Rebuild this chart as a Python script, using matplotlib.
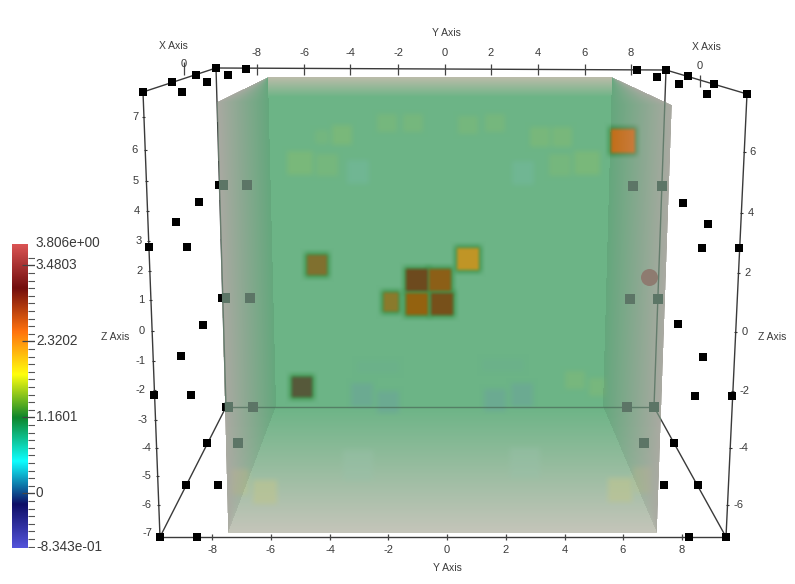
import numpy as np
import matplotlib
matplotlib.use("Agg")
import matplotlib.pyplot as plt
from matplotlib.colors import LinearSegmentedColormap
from matplotlib.patches import Polygon

W, H = 795, 584
FONT = "Liberation Sans"
TEXT = "#3a3a3a"

# --- colour legend
CB_MIN, CB_MAX = -0.8343, 3.806
CB_MAJOR = [0.0, 1.1601, 2.3202, 3.4803]
CB_LABELS = ["0", "1.1601", "2.3202", "3.4803"]
CB_STOPS = [0.0, 0.143, 0.285, 0.429, 0.571, 0.714, 0.857, 1.0]
CB_COLORS = ["#4a4ad8", "#00005e", "#00ffff", "#00801f", "#ffff00", "#ff6a00", "#6b0000", "#d84a4a"]

# --- box corners
OUTER = [(217, 102), (268, 77), (612, 77), (672, 105), (657, 533), (228, 533)]

# --- axis ticks
TOP_VALUES = [-8, -6, -4, -2, 0, 2, 4, 6, 8]
TOP_X = [257, 304, 350, 398, 445, 491, 538, 585, 631]
BOTTOM_X = [212, 271, 330, 388, 447, 506, 565, 623, 682]
LEFT_VALUES = [7, 6, 5, 4, 3, 2, 1, 0, -1, -2, -3, -4, -5, -6, -7]
LEFT_X = [135, 135, 136, 137, 139, 140, 141, 142, 140, 141, 143, 146, 146, 147, 147]
LEFT_Y = [117, 150, 181, 211, 241, 271, 300, 331, 361, 390, 420, 448, 476, 505, 533]
RIGHT_VALUES = [6, 4, 2, 0, -2, -4, -6]
RIGHT_X = [753, 751, 748, 745, 744, 743, 739]
RIGHT_Y = [152, 213, 273, 332, 391, 448, 505]

# --- black point markers
PTS_X = [143, 172, 196, 216, 246, 228, 207, 182, 219, 199, 637, 666, 657, 688, 679, 714, 707, 747, 683,
         176, 187, 149, 222, 203, 181, 191, 154, 708, 702, 739, 678, 703, 695, 732,
         226, 207, 186, 218, 160, 197, 674, 698, 664, 689, 726]
PTS_Y = [92, 82, 75, 68, 69, 75, 82, 92, 185, 202, 70, 70, 77, 76, 84, 84, 94, 94, 203,
         222, 247, 247, 298, 325, 356, 395, 395, 224, 248, 248, 324, 357, 396, 396,
         407, 443, 485, 485, 537, 537, 443, 485, 485, 537, 537]
# --- markers seen through the volume
GHOST_X = [223, 247, 633, 662, 225, 250, 630, 658, 228, 253, 238, 627, 654, 644]
GHOST_Y = [185, 185, 186, 186, 298, 298, 299, 299, 407, 407, 443, 407, 407, 443]

# --- box edges
EDGE_X0 = [143, 143, 216, 666, 747, 160, 160, 726, 216, 666, 226]
EDGE_Y0 = [92, 92, 68, 70, 94, 537, 537, 537, 68, 70, 407]
EDGE_X1 = [216, 160, 666, 747, 726, 726, 226, 654, 226, 654, 654]
EDGE_Y1 = [68, 537, 70, 94, 537, 537, 407, 407, 407, 407, 407]

# --- hot cells in the volume
HOT_X = [317, 417, 440, 417, 442, 468, 391, 302, 623]
HOT_Y = [265, 280, 280, 304, 304, 259, 302, 387, 141]
HOT_W = [22, 24, 24, 24, 24, 24, 17, 22, 26]
HOT_H = [22, 24, 24, 24, 24, 24, 21, 22, 26]
HOT_C = ["#80702f", "#6d4a1e", "#8c5f17", "#94620f", "#77501a", "#c09526", "#8a7a2c", "#56593a", "#c97a20"]

# --- faint cells
FAINT_X = [300, 327, 322, 342, 387, 413, 468, 495, 540, 562, 560, 587, 358, 523, 362, 388, 378, 495, 522, 503,
           358, 525, 240, 265, 620, 642, 575, 597]
FAINT_Y = [163, 165, 137, 135, 123, 123, 125, 123, 137, 137, 165, 163, 172, 173, 395, 402, 367, 400, 395, 365,
           465, 463, 482, 492, 490, 480, 380, 387]
FAINT_W = [28, 24, 16, 22, 22, 22, 22, 22, 22, 22, 24, 28, 24, 24, 24, 24, 44, 24, 24, 44, 32, 32, 20, 26, 26, 20, 22, 18]
FAINT_H = [26, 24, 16, 22, 20, 20, 20, 20, 22, 22, 24, 26, 26, 26, 26, 24, 14, 24, 26, 14, 32, 32, 28, 26, 26, 28, 20, 20]
FAINT_C = ["#82bb72"] * 12 + ["#74b9a0"] * 2 + ["#6a9fa0"] * 2 + ["#68a898"] + ["#6a9fa0"] * 2 + ["#68a898"] \
    + ["#98c0a8"] * 2 + ["#bcc490"] * 4 + ["#86bb72"] * 2
FAINT_A = [0.6, 0.45, 0.35, 0.6, 0.45, 0.45, 0.45, 0.45, 0.55, 0.55, 0.45, 0.6, 0.5, 0.5, 0.45, 0.45, 0.22, 0.45, 0.45, 0.22,
           0.45, 0.45, 0.5, 0.65, 0.65, 0.4, 0.45, 0.45]

GREEN = np.array([108, 180, 134], float)
SIDE_OUT = np.array([170, 170, 162], float)
FLOOR_OUT = np.array([197, 197, 186], float)
CEIL_OUT = np.array([188, 188, 170], float)
INNER_SHADE = 0.93


def hexrgb(c):
    return np.array([int(c[i:i + 2], 16) for i in (1, 3, 5)], float)


def edge(y, y0, x0, y1, x1):
    return x0 + (y - y0) * (x1 - x0) / (y1 - y0)


def soft_rect(X, Y, cx, cy, w, h, soft):
    a = np.clip((w / 2 + soft - np.abs(X - cx)) / (2 * soft), 0, 1)
    b = np.clip((h / 2 + soft - np.abs(Y - cy)) / (2 * soft), 0, 1)
    a = a * a * (3 - 2 * a)
    b = b * b * (3 - 2 * b)
    return a * b


def volume_image():
    Y, X = np.mgrid[0:H, 0:W] + 0.5
    bg = np.tile(GREEN, (H, W, 1))

    # vertical shading of the back and floor
    t = np.clip((Y - 406) / (533 - 406), 0, 1)[..., None]
    bg = bg * (1 - t) + FLOOR_OUT * t
    t = np.clip((97 - Y) / 20, 0, 1)[..., None]
    bg = bg * (1 - t) + CEIL_OUT * t

    rgb = bg.copy()
    # faint cells
    for x, y, w, h, c, a in zip(FAINT_X, FAINT_Y, FAINT_W, FAINT_H, FAINT_C, FAINT_A):
        m = (soft_rect(X, Y, x, y, w - 2, h - 2, 5) * a)[..., None]
        rgb = rgb * (1 - m) + hexrgb(c) * m
    # hot cells: dark green halo, then the core
    for x, y, w, h in zip(HOT_X, HOT_Y, HOT_W, HOT_H):
        m = (soft_rect(X, Y, x, y, w + 3, h + 3, 5) * 0.9)[..., None]
        rgb = rgb * (1 - m) + np.array([58, 145, 72.]) * m
    for x, y, w, h, c in zip(HOT_X, HOT_Y, HOT_W, HOT_H, HOT_C):
        m = soft_rect(X, Y, x, y, w - 2, h - 2, 3)[..., None]
        rgb = rgb * (1 - m) + hexrgb(c) * m

    # left and right faces
    yc = np.clip(Y, 77, 533)
    outer_l = np.where(yc < 102, edge(yc, 77, 268, 102, 217), edge(yc, 102, 217, 533, 228))
    outer_r = np.where(yc < 105, edge(yc, 77, 612, 105, 672), edge(yc, 105, 672, 533, 657))
    back_l = np.where(yc < 406, edge(yc, 77, 268, 406, 276), edge(yc, 406, 276, 533, 228))
    back_r = np.where(yc < 406, edge(yc, 77, 612, 406, 603), edge(yc, 406, 603, 533, 657))

    tl = np.clip((back_l - X) / np.maximum(back_l - outer_l, 1), 0, 1)
    tr = np.clip((X - back_r) / np.maximum(outer_r - back_r, 1), 0, 1)
    in_l = X < back_l
    in_r = X > back_r
    s = np.zeros((H, W))
    s[in_l] = tl[in_l]
    s[in_r] = tr[in_r]
    is_side = (in_l | in_r)[..., None]
    s = s[..., None]
    # side face: no ceiling/floor rows on it except the floor's greying
    row = np.clip((Y - 406) / 127, 0, 1)[..., None]
    inner = (GREEN * (1 - row) + FLOOR_OUT * row) * INNER_SHADE
    side_rgb = inner * (1 - s) + SIDE_OUT * s
    delta = rgb - bg
    rgb = np.where(is_side, side_rgb + delta * (1 - 0.55 * s), rgb)

    alpha = ((X >= outer_l) & (X <= outer_r) & (Y >= 77) & (Y <= 533)).astype(float)
    return np.dstack([np.clip(rgb, 0, 255) / 255, alpha])


fig = plt.figure(figsize=(W / 100, H / 100), dpi=100, facecolor="white")
ax = fig.add_axes([0, 0, 1, 1])
ax.set_xlim(0, W)
ax.set_ylim(H, 0)
ax.axis("off")

# box edges and black markers sit behind the volume
for x0, y0, x1, y1 in zip(EDGE_X0, EDGE_Y0, EDGE_X1, EDGE_Y1):
    ax.plot([x0, x1], [y0, y1], color="#3a3a3a", lw=1.0, zorder=1, solid_capstyle="butt")
ax.scatter(PTS_X, PTS_Y, marker="s", s=36, color="black", linewidths=0, zorder=2)

# axis ticks
ax.vlines(TOP_X, 64, 75, color="#444444", lw=0.9, zorder=1)
ax.vlines(BOTTOM_X, 534, 540, color="#444444", lw=0.9, zorder=1)
ax.vlines([184, 700], [62, 75], [75, 87], color="#444444", lw=0.9, zorder=1)
left_line = np.interp(LEFT_Y, [92, 537], [143, 160])
ax.hlines(LEFT_Y, left_line - 1.5, left_line + 1.5, color="#333333", lw=0.8, zorder=1)
right_line = np.interp(RIGHT_Y, [94, 537], [747, 726])
ax.hlines(RIGHT_Y, right_line - 1.5, right_line + 1.5, color="#333333", lw=0.8, zorder=1)

# volume
clip = Polygon(OUTER, closed=True, transform=ax.transData, fc="none", ec="none")
ax.add_patch(clip)
im = ax.imshow(volume_image(), extent=(0, W, H, 0), interpolation="bilinear", zorder=3, aspect="auto")
im.set_clip_path(clip)
ax.set_xlim(0, W)
ax.set_ylim(H, 0)

# what shows through the volume
for x0, y0, x1, y1 in zip(EDGE_X0, EDGE_Y0, EDGE_X1, EDGE_Y1):
    ln, = ax.plot([x0, x1], [y0, y1], color="#4a6a58", lw=1.0, alpha=0.7, zorder=4)
    ln.set_clip_path(clip)
gh = ax.scatter(GHOST_X, GHOST_Y, marker="s", s=50, color="#5c7566", linewidths=0, zorder=5)
gh.set_clip_path(clip)
ax.scatter([649], [277], s=150, color="#8e7b70", linewidths=0, zorder=6)

# text
tk = dict(family=FONT, color=TEXT, fontsize=8, ha="center", va="center", zorder=7)
lb = dict(family=FONT, color=TEXT, fontsize=7.5, ha="center", va="center", zorder=7)
for x, v in zip(TOP_X, TOP_VALUES):
    ax.text(x, 53, str(v), **tk)
for x, v in zip(BOTTOM_X, TOP_VALUES):
    ax.text(x, 550, str(v), **tk)
for x, y, v in zip(LEFT_X, LEFT_Y, LEFT_VALUES):
    ax.text(x, y, str(v), **tk)
for x, y, v in zip(RIGHT_X, RIGHT_Y, RIGHT_VALUES):
    ax.text(x, y, str(v), **tk)
ax.text(184, 64, "0", **tk)
ax.text(700, 66, "0", **tk)
ax.text(173, 46, "X Axis", **lb)
ax.text(706, 47, "X Axis", **lb)
ax.text(446, 33, "Y Axis", **lb)
ax.text(447, 568, "Y Axis", **lb)
ax.text(115, 337, "Z Axis", **lb)
ax.text(772, 337, "Z Axis", **lb)

# colour legend
cmap = LinearSegmentedColormap.from_list("pv", list(zip(CB_STOPS, CB_COLORS)), N=256)
cax = fig.add_axes([12 / W, 1 - 548 / H, 23 / W, 304 / H])
cax.set_xlim(12, 35)
cax.set_ylim(CB_MIN, CB_MAX)
cax.axis("off")
cax.imshow(np.linspace(1, 0, 256)[:, None], cmap=cmap, extent=(12, 28, CB_MIN, CB_MAX),
           aspect="auto", interpolation="bilinear", alpha=0.95)
cax.set_xlim(12, 35)
cax.set_ylim(CB_MIN, CB_MAX)
minor = np.arange(-7, 32) * (CB_MAJOR[1] / 10)
minor = minor[(minor > CB_MIN) & (minor < CB_MAX)]
cax.hlines(minor, 28, 35, color="#555555", lw=0.8)
cax.hlines(CB_MAJOR, 22, 35, color="#444444", lw=0.9)
cb = dict(family=FONT, color=TEXT, fontsize=9.8, ha="left", va="center", clip_on=False)
for v, s in zip(CB_MAJOR, CB_LABELS):
    cax.text(36, v, s, **cb)
cax.text(36, CB_MAX + 0.02, "3.806e+00", **cb)
cax.text(36, CB_MIN + 0.01, "-8.343e-01", **cb)

fig.savefig("out.png", dpi=100, facecolor="white")
